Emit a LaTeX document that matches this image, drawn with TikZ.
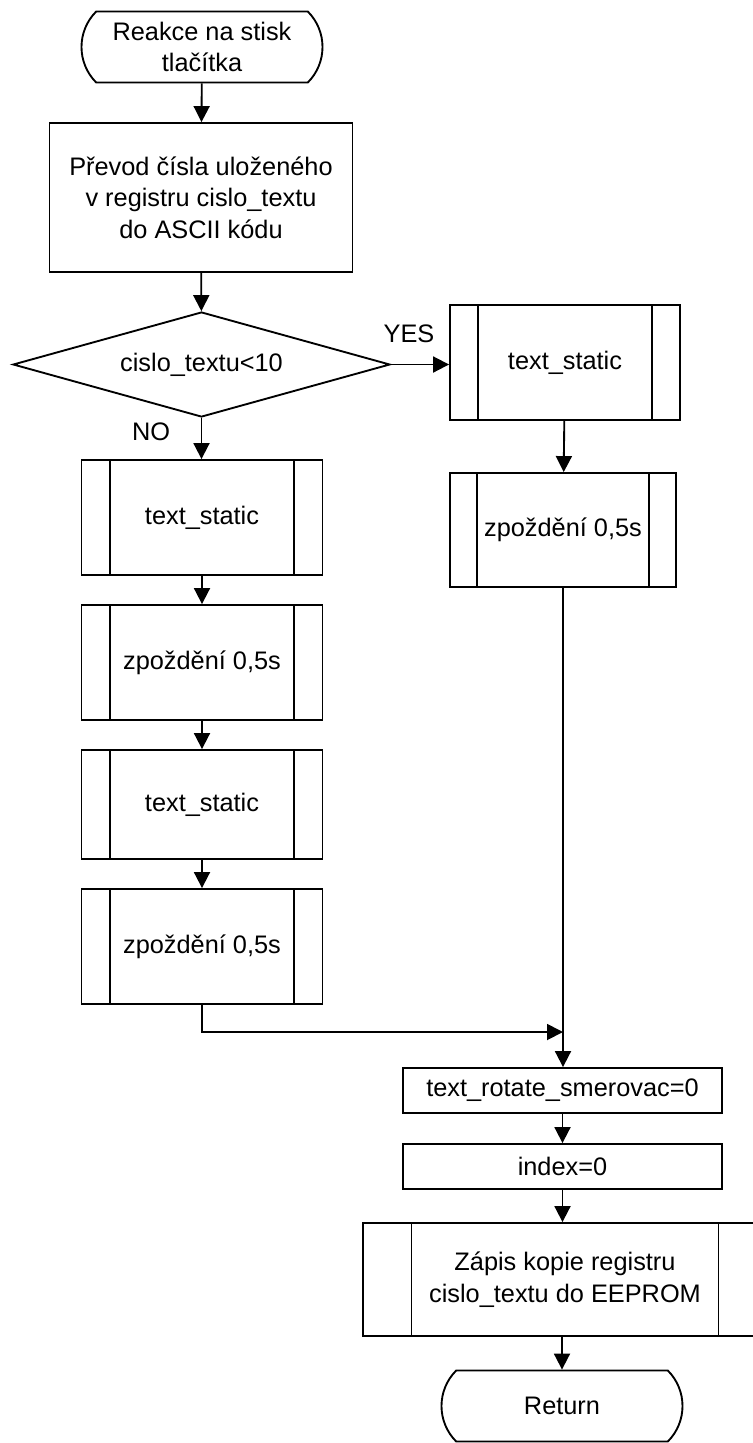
\documentclass[tikz,border=0pt]{standalone}
\usepackage{fontspec}
\setmainfont{Liberation Sans}
\usepackage{tikz}
\usetikzlibrary{shapes.geometric,shapes.misc,arrows.meta,calc}

\tikzset{
	term/.style={draw, rounded rectangle, rounded rectangle arc length=90, minimum width=180.75pt, minimum height=53.25pt, inner sep=0pt, align=center},
	box/.style={draw, rectangle, inner sep=0pt, align=center},
	proc/.style={box, path picture={
		\draw ($(path picture bounding box.north west)!.12!(path picture bounding box.north east)$) -- ($(path picture bounding box.south west)!.12!(path picture bounding box.south east)$)
		($(path picture bounding box.north west)!.88!(path picture bounding box.north east)$) -- ($(path picture bounding box.south west)!.88!(path picture bounding box.south east)$);}},
	cond/.style={draw, diamond, inner sep=0pt, minimum width=282.75pt, minimum height=78.75pt, aspect=3.6},
	arr/.style={-{Triangle[length=12pt,width=12pt]}}
}

\begin{document}
\begin{tikzpicture}[x=0.75pt, y=-0.75pt, line width=1.4pt, font=\fontsize{19pt}{23.6pt}\selectfont]
	\useasboundingbox (0,0) rectangle (753,1443);
	\node[term] (start) at (202,47) {Reakce na stisk\\tlačítka};
	\node[box, minimum width=227.25pt, minimum height=111.75pt] (prevod) at (201,197.5) {Převod čísla uloženého\\v registru cislo\_textu\\do ASCII kódu};
	\node[cond] (test) at (201.5,364.5) {cislo\_textu<10};
	\node[proc, minimum width=172.5pt, minimum height=86.25pt] (tsA) at (565,362.5) {text\_static};
	\node[proc, minimum width=169.5pt, minimum height=85.5pt] (zpA) at (563,530) {zpoždění 0,5s};
	\node[proc, minimum width=180.75pt, minimum height=86.25pt] (tsB) at (202,517.5) {text\_static};
	\node[proc, minimum width=180.75pt, minimum height=86.25pt] (zpB) at (202,662.5) {zpoždění 0,5s};
	\node[proc, minimum width=180.75pt, minimum height=81.75pt] (tsC) at (202,804.5) {text\_static};
	\node[proc, minimum width=180.75pt, minimum height=86.25pt] (zpC) at (202,946.5) {zpoždění 0,5s};
	\coordinate (join) at (563,1032);
	\node[box, minimum width=239.25pt, minimum height=33.75pt] (rot) at (562.5,1090.5) {text\_rotate\_smerovac=0};
	\node[box, minimum width=239.25pt, minimum height=33.75pt] (idx) at (562.5,1166.5) {index=0};
	\node[proc, minimum width=303pt, minimum height=84.75pt] (zapis) at (565,1279.5) {Zápis kopie registru\\cislo\_textu do EEPROM};
	\node[term] (ret) at (562,1406) {Return};
	\node (yes) at (409,334) {YES};
	\node (no) at (151,432) {NO};
	\draw[arr] (start) -- (prevod);
	\draw[arr] (prevod) -- (test);
	\draw[arr] (test.east) -- (test.east -| tsA.west);
	\draw[arr] (test.south) -- (test.south |- tsB.north);
	\draw[arr] (tsA) -- (zpA);
	\draw[arr] (tsB) -- (zpB);
	\draw[arr] (zpB) -- (tsC);
	\draw[arr] (tsC) -- (zpC);
	\draw[arr] (zpA.south) -- (zpA.south |- rot.north);
	\draw[arr] (zpC.south) -- (zpC.south |- join) -- (join);
	\draw[arr] (rot) -- (idx);
	\draw[arr] (idx.south) -- (idx.south |- zapis.north);
	\draw[arr] (zapis.south -| ret.north) -- (ret.north);
\end{tikzpicture}
\end{document}
